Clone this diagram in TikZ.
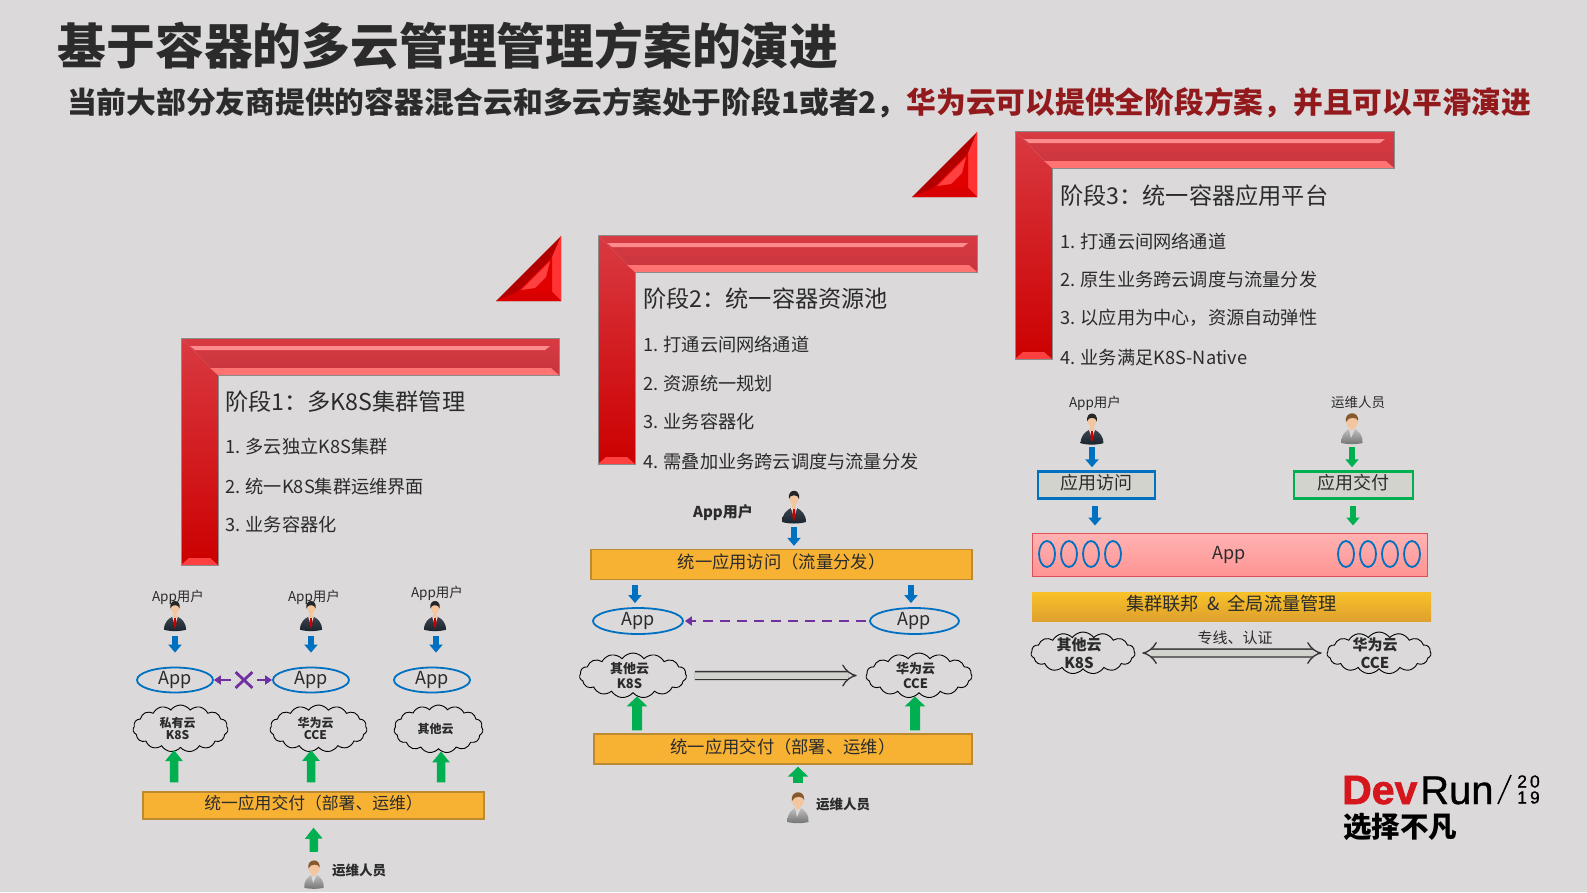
\documentclass[tikz,border=0pt]{standalone}
\usepackage{fontspec}
\setmainfont{Noto Sans CJK SC}
\newfontfamily\logodev[FakeBold=1.5,UprightFont=* Bold]{Liberation Sans}
\newfontfamily\logorun[FakeBold=0.9]{Liberation Sans}
\usepackage{xcolor}
\usepackage{tikz}
\usetikzlibrary{arrows.meta,shapes.geometric,shapes.symbols,shapes.misc}
\definecolor{custom_page}{HTML}{DBD9DA}
\definecolor{custom_ink}{HTML}{2B2B2B}
\definecolor{custom_darkred}{HTML}{931A1C}
\definecolor{custom_blue}{HTML}{0070C0}
\definecolor{custom_green}{HTML}{00B050}
\definecolor{custom_purple}{HTML}{7030A0}
\definecolor{custom_orange}{HTML}{F7B233}
\definecolor{custom_rim}{HTML}{BC8A30}
\definecolor{custom_logo}{HTML}{D5161C}
\definecolor{custom_skin}{HTML}{F3C6A0}
\definecolor{custom_box}{HTML}{D3D3CD}
\definecolor{custom_suit}{HTML}{18232E}
\definecolor{custom_barred}{HTML}{D93A42}
\tikzset{
    titletext/.style={inner sep=0pt, anchor=west, text=custom_ink, font=\bfseries\fontsize{48.8}{54}\selectfont},
    subtext/.style={inner sep=0pt, anchor=west, font=\bfseries\fontsize{29.75}{34}\selectfont},
    stagetext/.style={inner sep=0pt, anchor=west, text=custom_ink, font=\fontsize{23.2}{27}\selectfont},
    itemtext/.style={inner sep=0pt, anchor=west, text=custom_ink, font=\fontsize{18.2}{22}\selectfont},
    smalltext/.style={inner sep=0pt, text=custom_ink, font=\fontsize{13.5}{16}\selectfont},
    boldtext/.style={inner sep=0pt, text=custom_ink, font=\bfseries\fontsize{13.5}{16}\selectfont},
    personbox/.style={inner sep=0pt, minimum width=24pt, minimum height=32pt},
    appoval/.style={ellipse, draw=custom_blue, line width=1.8pt, inner sep=0pt, minimum width=76pt, minimum height=25pt, text=custom_ink, font=\fontsize{18}{20}\selectfont},
    tinyoval/.style={ellipse, draw=custom_blue, line width=1.8pt, inner sep=0pt, minimum width=16pt, minimum height=26pt},
    cloudbox/.style={cloud, cloud puffs=15, cloud puff arc=110, cloud ignores aspect, draw=black, line width=0.9pt, inner sep=-8pt, align=center, text=custom_ink, font=\bfseries\fontsize{12}{12.5}\selectfont},
    orangebox/.style={draw=custom_rim, fill=custom_orange, line width=1.3pt, inner sep=0pt, text height=12pt, text depth=4pt, text=custom_ink, font=\fontsize{17.3}{20}\selectfont},
    entrybox/.style={fill=custom_box, line width=2.4pt, inner sep=0pt, text height=12pt, text depth=4pt, minimum width=117pt, minimum height=27pt, text=custom_ink, font=\fontsize{18}{20}\selectfont},
    bluearrow/.style={draw=custom_blue, line width=6.5pt, -{Triangle[width=13pt,length=8pt]}},
    greenarrow/.style={draw=custom_green, line width=8.5pt, -{Triangle[width=17pt,length=11pt]}},
    biggreenarrow/.style={draw=custom_green, line width=10pt, -{Triangle[width=20pt,length=10pt]}},
    smallgreenarrow/.style={draw=custom_green, line width=6.5pt, -{Triangle[width=13pt,length=8pt]}},
    purplearrow/.style={draw=custom_purple, line width=2.6pt, -{Triangle[width=9pt,length=7pt]}},
    hollowarrow/.style={draw=black!80, line width=1.3pt, double=custom_box, double distance=6.5pt},
    pics/manuser/.style={code={
        \shade[top color=custom_suit!85!white, bottom color=custom_suit] (-12,16) .. controls (-12,8) and (-7,4) .. (-3,2) -- (3,2) .. controls (7,4) and (12,8) .. (12,16) .. controls (5,18) and (-5,18) .. (-12,16) -- cycle;
        \fill[white] (-3,2) -- (3,2) -- (0,12) -- cycle;
        \fill[red!80!black] (-1.2,3) -- (1.2,3) -- (1.6,10) -- (0,15) -- (-1.6,10) -- cycle;
        \fill[custom_skin] (-2,-2) rectangle (2,3);
        \fill[custom_skin] (0,-8) ellipse [x radius=4.5, y radius=6.8];
        \fill[black!85] (-5,-7) .. controls (-7,-18) and (7,-18) .. (5,-7) .. controls (4.5,-12) and (-4.5,-12) .. (-5,-7) -- cycle;
    }},
    pics/opsuser/.style={code={
        \shade[top color=black!25, bottom color=black!55] (-10.5,15) .. controls (-11,6) and (-6,3) .. (-3,1) -- (3,1) .. controls (6,3) and (11,6) .. (10.5,15) .. controls (5,16.5) and (-5,16.5) .. (-10.5,15) -- cycle;
        \fill[white!85!black] (-3,1) -- (3,1) -- (-1,10) -- cycle;
        \fill[custom_skin] (-2,-3) rectangle (2,2);
        \fill[custom_skin] (0,-7) ellipse [x radius=6, y radius=7.5];
        \fill[brown!70!black] (-6.2,-6) .. controls (-8,-17) and (7,-18) .. (6.2,-7) .. controls (5,-11) and (-3,-12) .. (-6.2,-6) -- cycle;
    }},
    pics/stagebar/.style 2 args={code={
        \shade[top color=custom_barred, bottom color=custom_barred!92!black] (0,0) -- (#1,0) -- (#1,37) -- (37,37) -- cycle;
        \shade[top color=custom_barred, bottom color=red!80!black] (0,0) -- (37,37) -- (37,#2) -- (0,#2) -- cycle;
        \fill[red!45!white] (9,8) -- (#1-9,8) -- (#1-14,12) -- (14,12) -- cycle;
        \fill[red!55!white] (29,30) -- (#1-8,30) -- (#1,37) -- (37,37) -- cycle;
        \fill[red!75!white] (0,#2) -- (37,#2) -- (29,#2-7) -- (8,#2-7) -- cycle;
        \draw[black!45, line width=0.6pt] (0,#2) -- (0,0) -- (#1,0) -- (#1,37) -- (37,37) -- (37,#2) -- cycle;
    }},
    pics/stagecorner/.style={code={
        \fill[red!70!black] (-65,0) -- (0,0) -- (0,-65) -- cycle;
        \fill[red!80!white] (-9,-9) -- (0,0) -- (0,-65) -- (-9,-44) -- cycle;
        \fill[red!85!black] (-44,-9) -- (-9,-9) -- (0,0) -- (-65,0) -- cycle;
        \fill[red!88!black] (-44,-9) -- (-9,-9) -- (-9,-44) -- cycle;
        \fill[red!75!white] (-40,-11) -- (-11,-40) -- (-15,-24) -- (-26,-13) -- cycle;
    }},
}
\begin{document}
\begin{tikzpicture}[x=1pt, y=-1pt]
    \fill[custom_page] (0,0) rectangle (1587,892);
    \useasboundingbox (0,0) rectangle (1587,892);

    \node (maintitle) at (57.5,46) [titletext] {基于容器的多云管理管理方案的演进};
    \node (subtitle) at (67,103) [subtext, text=custom_ink] {当前大部分友商提供的容器混合云和多云方案处于阶段1或者2，\textcolor{custom_darkred}{华为云可以提供全阶段方案，并且可以平滑演进}};

    \pic at (181,338) {stagebar={378}{227}};
    \pic at (598,235) {stagebar={379}{229}};
    \pic at (1015,131) {stagebar={379}{228}};
    \pic at (561,301) {stagecorner};
    \pic at (977,197) {stagecorner};

    \node (stagea) at (225,402) [stagetext] {阶段1：多K8S集群管理};
    \node (itemaa) at (225,447) [itemtext] {1. 多云独立K8S集群};
    \node (itemab) at (225,487) [itemtext] {2. 统一K8S集群运维界面};
    \node (itemac) at (225,525) [itemtext] {3. 业务容器化};

    \node (stageb) at (643,299) [stagetext] {阶段2：统一容器资源池};
    \node (itemba) at (643,344) [itemtext] {1. 打通云间网络通道};
    \node (itembb) at (643,383.5) [itemtext] {2. 资源统一规划};
    \node (itembc) at (643,422) [itemtext] {3. 业务容器化};
    \node (itembd) at (643,461.5) [itemtext] {4. 需叠加业务跨云调度与流量分发};

    \node (stagec) at (1060,196) [stagetext] {阶段3：统一容器应用平台};
    \node (itemca) at (1060,241) [itemtext] {1. 打通云间网络通道};
    \node (itemcb) at (1060,279.5) [itemtext] {2. 原生业务跨云调度与流量分发};
    \node (itemcc) at (1060,318) [itemtext] {3. 以应用为中心，资源自动弹性};
    \node (itemcd) at (1060,358) [itemtext] {4. 业务满足K8S-Native};

    \node (usera) at (175,615) [personbox] {};
    \node (userb) at (311,615) [personbox] {};
    \node (userc) at (435,615) [personbox] {};
    \pic[scale=0.92] at (usera) {manuser};
    \pic[scale=0.92] at (userb) {manuser};
    \pic[scale=0.92] at (userc) {manuser};
    \node (labela) at (178,597) [smalltext] {App用户};
    \node (labelb) at (314,597) [smalltext] {App用户};
    \node (labelc) at (437,593) [smalltext] {App用户};

    \node (appa) at (175,680) [appoval] {App};
    \node (appb) at (311,680) [appoval] {App};
    \node (appc) at (432,680) [appoval] {App};
    \node (stopa) at (244,680) [cross out, draw=custom_purple, line width=2.8pt, inner sep=0pt, minimum width=14pt, minimum height=13pt] {};

    \node (clouda) at (180.5,728.5) [cloudbox, minimum width=95pt, minimum height=47pt] {私有云\hspace*{6pt}\\K8S\hspace*{6pt}};
    \node (cloudb) at (318.5,728.5) [cloudbox, minimum width=97pt, minimum height=47pt] {华为云\hspace*{6pt}\\CCE\hspace*{6pt}};
    \node (cloudc) at (438.5,729) [cloudbox, minimum width=89pt, minimum height=48pt] {其他云\hspace*{6pt}};

    \node (deliverya) at (313.5,805.5) [orangebox, minimum width=341pt, minimum height=27pt, font=\fontsize{16.8}{20}\selectfont] {统一应用交付（部署、运维）};
    \node (opsa) at (314,874) [personbox] {};
    \pic[scale=0.92] at (opsa) {opsuser};
    \node (opstexta) at (359,870) [boldtext] {运维人员};

    \draw[bluearrow] ([yshift=-5pt]usera.south) -- ([yshift=14pt]appa.north);
    \draw[bluearrow] ([yshift=-5pt]userb.south) -- ([yshift=14pt]appb.north);
    \draw[bluearrow] ([xshift=1pt,yshift=-5pt]userc.south) -- ([xshift=4pt,yshift=14pt]appc.north);
    \draw[purplearrow] ([xshift=-5pt]stopa.west) -- (appa.east);
    \draw[purplearrow] ([xshift=5pt]stopa.east) -- (appb.west);
    \draw[greenarrow] ([xshift=-139.5pt,yshift=9pt]deliverya.north) -- ([xshift=-6.5pt,yshift=-2pt]clouda.south);
    \draw[greenarrow] ([xshift=-2.5pt,yshift=9pt]deliverya.north) -- ([xshift=-7.5pt,yshift=-2pt]cloudb.south);
    \draw[greenarrow] ([xshift=127.5pt,yshift=9pt]deliverya.north) -- ([xshift=2.5pt,yshift=-2pt]cloudc.south);
    \draw[greenarrow] ([yshift=6pt]opsa.north) -- ([yshift=-8pt]deliverya.south);

    \node (userd) at (794,506) [personbox] {};
    \pic at (userd) {manuser};
    \node (labeld) at (723,513) [boldtext, font=\bfseries\fontsize{15}{16}\selectfont] {App用户};
    \node (accessb) at (781.5,564.5) [orangebox, minimum width=381pt, minimum height=30pt] {统一应用访问（流量分发）};
    \node (appd) at (638,621) [appoval, minimum width=90pt, minimum height=26pt] {App};
    \node (appe) at (914.5,621) [appoval, minimum width=89pt, minimum height=26pt] {App};
    \node (cloudd) at (633,675.5) [cloudbox, minimum width=107pt, minimum height=45pt, font=\bfseries\fontsize{13}{15}\selectfont] {其他云\hspace*{7pt}\\K8S\hspace*{7pt}};
    \node (cloude) at (919,675.5) [cloudbox, minimum width=106pt, minimum height=45pt, font=\bfseries\fontsize{13}{15}\selectfont] {华为云\hspace*{7pt}\\CCE\hspace*{7pt}};
    \node (deliveryb) at (783,749) [orangebox, minimum width=378pt, minimum height=30pt] {统一应用交付（部署、运维）};
    \node (opsb) at (798,807) [personbox] {};
    \pic at (opsb) {opsuser};
    \node (opstextb) at (843,804) [boldtext] {运维人员};

    \draw[bluearrow] ([yshift=-5pt]userd.south) -- ([xshift=12.5pt,yshift=3pt]accessb.north);
    \draw[bluearrow] ([xshift=-146.5pt,yshift=-5pt]accessb.south) -- ([xshift=-3pt,yshift=4pt]appd.north);
    \draw[bluearrow] ([xshift=129.5pt,yshift=-5pt]accessb.south) -- ([xshift=-3.5pt,yshift=4pt]appe.north);
    \draw[purplearrow, dash pattern=on 10pt off 7pt] ([xshift=-3pt]appe.west) -- ([xshift=1pt]appd.east);
    \draw[hollowarrow, -Implies] ([xshift=8pt]cloudd.east) -- ([xshift=-9pt]cloude.west);
    \draw[biggreenarrow] ([xshift=-146pt,yshift=3pt]deliveryb.north) -- ([xshift=4pt,yshift=-3pt]cloudd.south);
    \draw[biggreenarrow] ([xshift=132pt,yshift=3pt]deliveryb.north) -- ([xshift=-4pt,yshift=-3pt]cloude.south);
    \draw[biggreenarrow] ([yshift=8pt]opsb.north) -- ([xshift=15pt,yshift=-2pt]deliveryb.south);

    \node (userf) at (1092,428) [personbox] {};
    \pic[scale=0.95] at (userf) {manuser};
    \node (labelf) at (1095,403) [smalltext] {App用户};
    \node (opsc) at (1352,428) [personbox] {};
    \pic at (opsc) {opsuser};
    \node (opstextc) at (1358,402) [smalltext] {运维人员};
    \node (accessc) at (1096.5,485) [entrybox, draw=custom_blue] {应用访问};
    \node (deliveryc) at (1353.5,485) [entrybox, draw=custom_green, minimum width=119pt] {应用交付};
    \node (apppool) at (1229.5,554.5) [draw=custom_logo!75!white, top color=red!30!white, bottom color=red!42!white, line width=1pt, inner sep=0pt, minimum width=395pt, minimum height=43pt, text=custom_ink, font=\fontsize{18}{20}\selectfont] {App};
    \node (ovala) at (1047,554) [tinyoval] {};
    \node (ovalb) at (1069,554) [tinyoval] {};
    \node (ovalc) at (1091,554) [tinyoval] {};
    \node (ovald) at (1113,554) [tinyoval] {};
    \node (ovale) at (1346,554) [tinyoval] {};
    \node (ovalf) at (1368,554) [tinyoval] {};
    \node (ovalg) at (1390,554) [tinyoval] {};
    \node (ovalh) at (1412,554) [tinyoval] {};
    \node (federation) at (1231.5,606.5) [top color=custom_orange!80!yellow, bottom color=custom_orange!90!black, inner sep=0pt, text height=12pt, text depth=4pt, minimum width=399pt, minimum height=29pt, text=custom_ink, font=\fontsize{18.2}{20}\selectfont] {集群联邦\ \ \&\ \ 全局流量管理};
    \node (cloudf) at (1083,653) [cloudbox, minimum width=104pt, minimum height=42pt, font=\bfseries\fontsize{15}{18}\selectfont] {其他云\hspace*{8pt}\\K8S\hspace*{8pt}};
    \node (cloudg) at (1379,653) [cloudbox, minimum width=104pt, minimum height=42pt, font=\bfseries\fontsize{15}{18}\selectfont] {华为云\hspace*{8pt}\\CCE\hspace*{8pt}};
    \node (linktext) at (1235,638) [inner sep=0pt, text=custom_ink, font=\fontsize{15}{17}\selectfont] {专线、认证};

    \draw[bluearrow] ([yshift=-3pt]userf.south) -- ([xshift=-4.5pt,yshift=3pt]accessc.north);
    \draw[smallgreenarrow] ([yshift=-3pt]opsc.south) -- ([xshift=-1.5pt,yshift=3pt]deliveryc.north);
    \draw[bluearrow] ([xshift=-1.5pt,yshift=-6pt]accessc.south) -- ([xshift=-134.5pt,yshift=7pt]apppool.north);
    \draw[smallgreenarrow] ([xshift=-0.5pt,yshift=-6pt]deliveryc.south) -- ([xshift=123.5pt,yshift=7pt]apppool.north);
    \draw[hollowarrow, Implies-Implies] ([xshift=7pt]cloudf.east) -- ([xshift=-5pt]cloudg.west);

    \node (logodev) at (1342,804) [inner sep=0pt, anchor=base west, text=custom_logo, font=\logodev\fontsize{41}{44}\selectfont] {Dev};
    \node (logorun) at (1420,804) [inner sep=0pt, anchor=base west, text=black, font=\logorun\fontsize{40}{44}\selectfont] {Run};
    \coordinate (slashlow) at (1498,804);
    \coordinate (slashtop) at (1511,775);
    \draw[black, line width=1.6pt] (slashlow) -- (slashtop);
    \node (logoyear) at (1528.5,789.5) [inner sep=0pt, align=left, text=black, font=\logorun\fontsize{17.5}{16}\selectfont] {2\kern3pt 0\\1\kern3pt 9};
    \node (logotext) at (1343,827) [inner sep=0pt, anchor=west, text=black, font=\bfseries\fontsize{28.5}{32}\selectfont] {选择不凡};
\end{tikzpicture}
\end{document}
